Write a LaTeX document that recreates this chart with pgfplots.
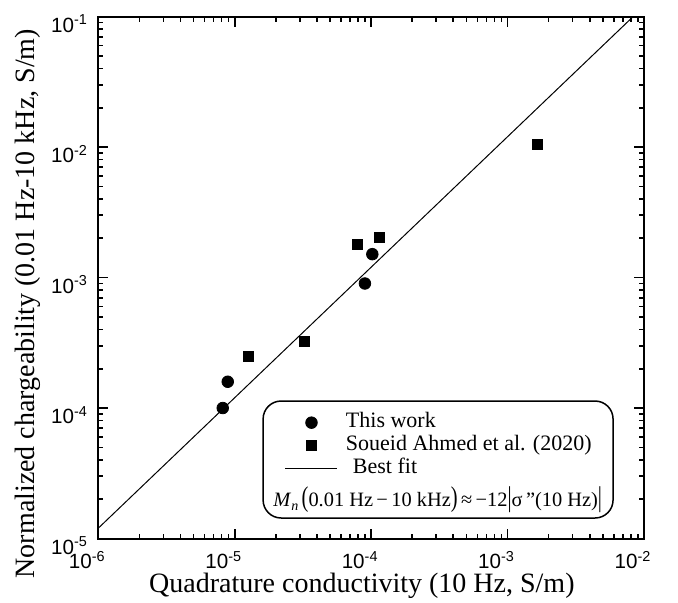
\documentclass[border=0pt]{standalone}
\usepackage{fontspec}
\setmainfont{Liberation Serif}
\newfontfamily\arialfont{Liberation Sans}
\usepackage{pgfplots}
\pgfplotsset{compat=1.18}
\pgfplotsset{
  markimg/.style={legend image code/.code={\draw[##1] plot coordinates {(13pt,0pt)};}},
  lineimg/.style={legend image code/.code={\draw[##1] (0pt,0pt) -- (26pt,0pt);}},
}
\begin{document}
\begin{tikzpicture}
\begin{axis}[
  anchor=south west, at={(0pt,0pt)},
  scale only axis, width=272.85pt, height=261pt,
  xmode=log, ymode=log,
  xmin=1e-6, xmax=1e-2, ymin=1e-5, ymax=1e-1,
  xtick={1e-6,1e-5,1e-4,1e-3,1e-2},
  xticklabels={10\textsuperscript{-6},10\textsuperscript{-5},10\textsuperscript{-4},10\textsuperscript{-3},10\textsuperscript{-2}},
  ytick={1e-5,1e-4,1e-3,1e-2,1e-1},
  yticklabels={10\textsuperscript{-5},10\textsuperscript{-4},10\textsuperscript{-3},10\textsuperscript{-2},10\textsuperscript{-1}},
  tick align=inside,
  major tick length=5pt, minor tick length=2.5pt,
  every tick/.style={black, line width=0.8pt},
  axis line style={line width=1pt},
  ticklabel style={font=\arialfont\fontsize{10.3}{12}\selectfont},
  xticklabel style={anchor=north, inner sep=0pt, yshift=-6.3pt, xshift=-5.5pt},
  yticklabel style={anchor=east, inner sep=0pt, xshift=-5pt, yshift=-3.5pt},
  xlabel={Quadrature conductivity (10 Hz, S/m)},
  ylabel={Normalized chargeability (0.01 Hz-10 kHz, S/m)},
  label style={font=\fontsize{14}{16}\selectfont, inner sep=0pt},
  xlabel style={at={(axis description cs:0.483,-0.1035)}, anchor=base},
  ylabel style={at={(axis description cs:-0.116,0.45)}, anchor=base, rotate=0},
  legend style={at={(0.3421,0.244)}, anchor=north west, draw=none, fill=none,
    inner sep=0pt, outer sep=0pt, row sep=0pt, column sep=4pt,
    font=\fontsize{11}{13}\selectfont,
    nodes={inner sep=0pt, text height=8pt, text depth=3.5pt}},
  legend cell align=left,
]
\addplot[only marks, mark=*, mark size=2.9pt, black, markimg] coordinates {
  (8.17e-6,1.00e-4) (8.89e-6,1.59e-4) (9.0e-5,9.0e-4) (1.02e-4,1.51e-3)
};
\addlegendentry{This work}
\addplot[only marks, mark=square*, mark size=2.5pt, black, markimg] coordinates {
  (1.26e-5,2.49e-4) (3.24e-5,3.24e-4) (7.89e-5,1.78e-3) (1.15e-4,2.04e-3) (1.65e-3,1.04e-2)
};
\addlegendentry{Soueid Ahmed et al. (2020)}
\addplot[black, line width=0.5pt, lineimg] coordinates {(1e-6,1.2e-5) (8.333e-3,0.1)};
\addlegendentry{\hspace{3.5pt}Best fit}
\draw[line width=0.75pt, rounded corners=9pt] (rel axis cs:0.302,0.0393) rectangle (rel axis cs:0.9433,0.2634);
\node[font=\fontsize{10.2}{12}\selectfont, anchor=center, inner sep=0pt] at (rel axis cs:0.622,0.0738)
  {\textit{M}\raisebox{-0.4ex}{\scriptsize\textit{n}}\,\scalebox{1}[1.4]{(}0.01 Hz\,−\,10 kHz\scalebox{1}[1.4]{)}\,≈\,−12\scalebox{1}[1.4]{|}σ\,"(10 Hz)\scalebox{1}[1.4]{|}};
\end{axis}
\pgfresetboundingbox
\path[use as bounding box] (-49.15pt,-31.75pt) rectangle (289.85pt,269.25pt);
\end{tikzpicture}
\end{document}
